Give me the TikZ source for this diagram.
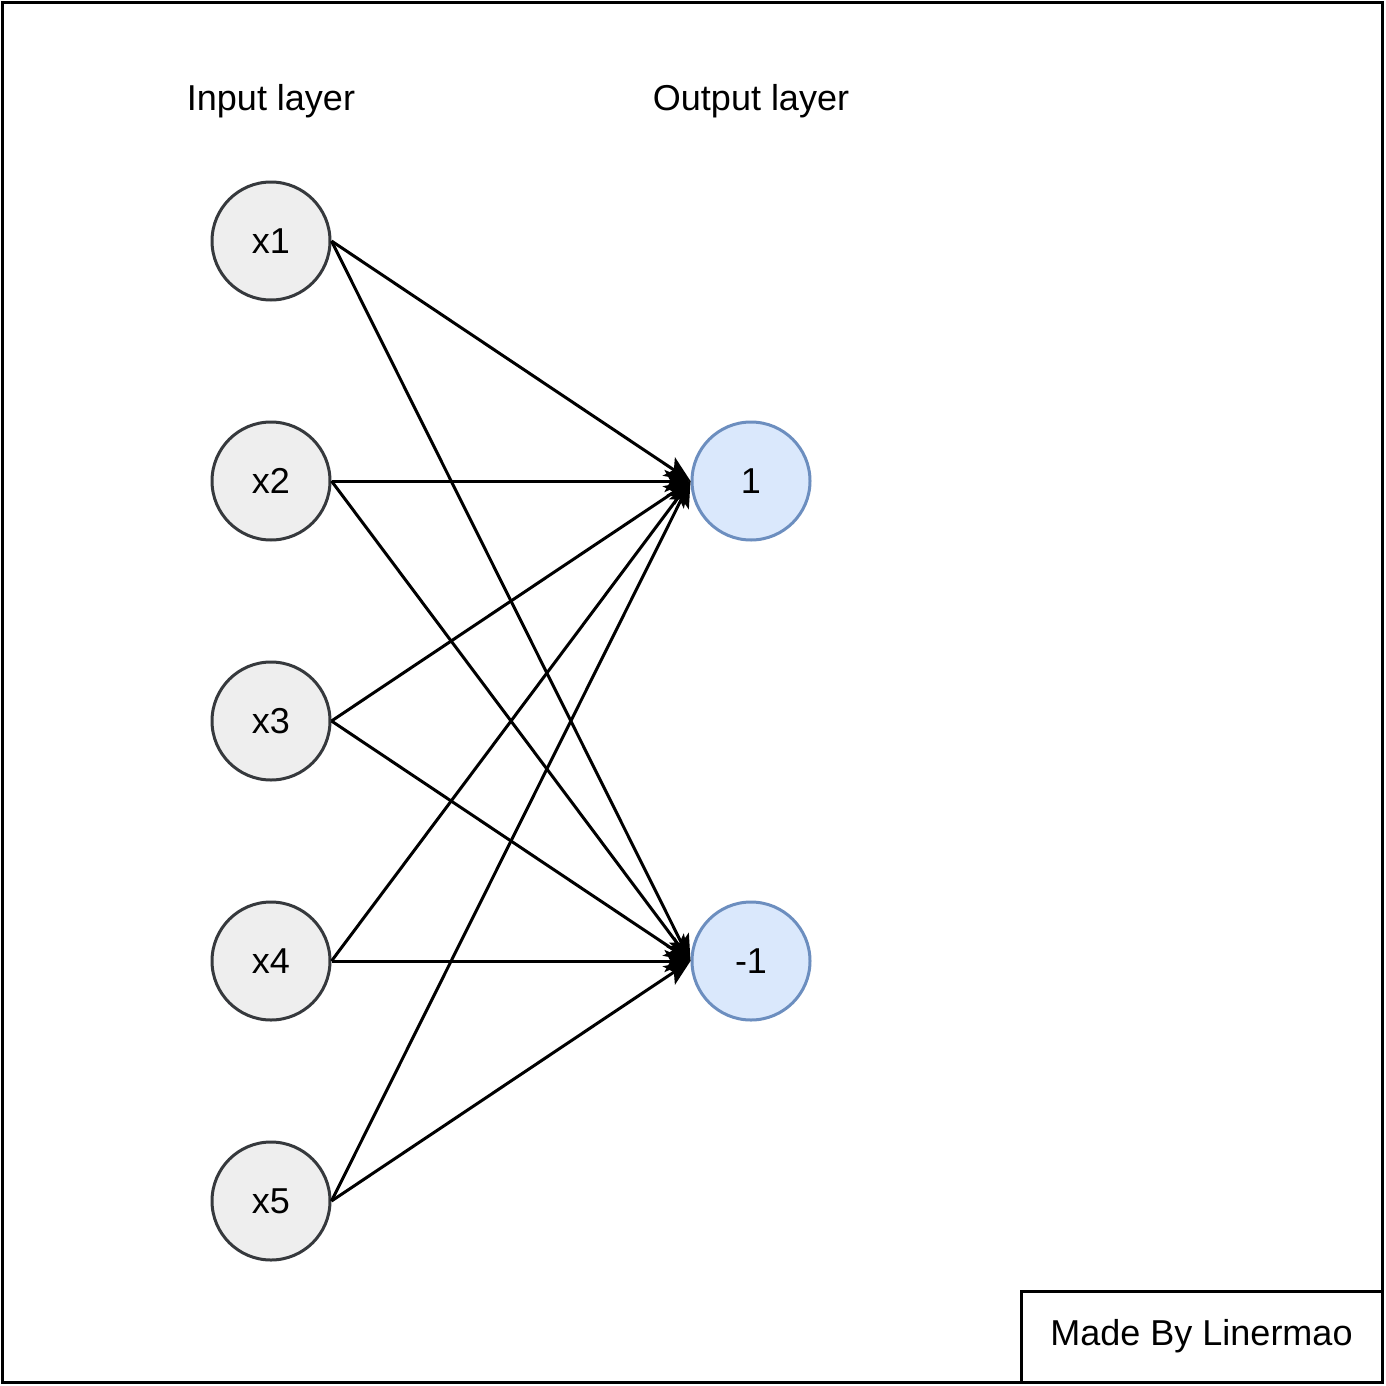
\documentclass[tikz,border=0pt]{standalone}
\usepackage{fontspec}
\setmainfont{Liberation Sans}
\usetikzlibrary{arrows.meta}
\begin{document}
\begin{tikzpicture}[x=1pt,y=-1pt,
  innode/.style={circle,draw={rgb,255:red,54;green,57;blue,61},fill={rgb,255:red,238;green,238;blue,238},line width=3pt,minimum size=118pt,inner sep=0pt,font=\fontsize{36}{40}\selectfont},
  outnode/.style={circle,draw={rgb,255:red,108;green,142;blue,191},fill={rgb,255:red,218;green,232;blue,252},line width=3pt,minimum size=118pt,inner sep=0pt,font=\fontsize{36}{40}\selectfont},
  lbl/.style={font=\fontsize{36}{40}\selectfont,inner sep=0pt},
  conn/.style={line width=3pt,-{Stealth[length=26pt,width=22pt,inset=6pt]}}]
\useasboundingbox (0,0) rectangle (1386,1386);
\node[draw,line width=3pt,minimum width=1380pt,minimum height=1380pt,inner sep=0pt] (frame) at (692.5,692.5) {};
\node[lbl] (inl) at (271,101) {Input layer};
\node[lbl] (outl) at (751,101) {Output layer};
\node[innode] (x1) at (271,241) {x1};
\node[innode] (x2) at (271,481) {x2};
\node[innode] (x3) at (271,721) {x3};
\node[innode] (x4) at (271,961) {x4};
\node[innode] (x5) at (271,1201) {x5};
\node[outnode] (o1) at (751,481) {1};
\node[outnode] (o2) at (751,961) {-1};
\node[draw,line width=3pt,minimum width=361pt,minimum height=91pt,inner sep=0pt,font=\fontsize{36}{40}\selectfont] (made) at (1201.5,1336.5) {Made By Linermao};
\foreach \i in {x1,x2,x3,x4,x5}{
  \draw[conn] (\i.east) -- (o1.west);
  \draw[conn] (\i.east) -- (o2.west);
}
\end{tikzpicture}
\end{document}
